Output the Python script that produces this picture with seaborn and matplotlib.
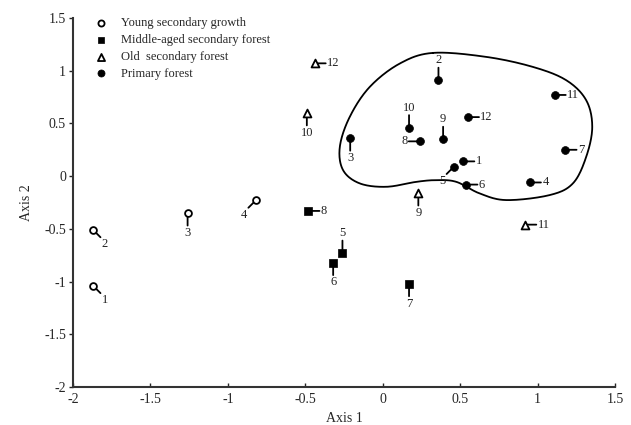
import numpy as np
import pandas as pd
import matplotlib
matplotlib.use("Agg")
import matplotlib.pyplot as plt
import seaborn as sns

# ---- data ----
young_x = [-1.87, -1.87, -1.26, -0.82]
young_y = [-1.04, -0.51, -0.35, -0.23]
young_lab = ["1", "2", "3", "4"]

middle_x = [-0.26, -0.32, 0.17, -0.48]
middle_y = [-0.73, -0.82, -1.02, -0.33]
middle_lab = ["5", "6", "7", "8"]

old_x = [0.23, -0.49, 0.92, -0.44]
old_y = [-0.16, 0.60, -0.46, 1.07]
old_lab = ["9", "10", "11", "12"]

primary_x = [0.52, 0.36, -0.21, 0.95, 0.46, 0.54, 1.18, 0.24, 0.39, 0.17, 1.11, 0.55]
primary_y = [0.14, 0.91, 0.36, -0.06, 0.09, -0.08, 0.25, 0.33, 0.35, 0.46, 0.77, 0.56]
primary_lab = ["1", "2", "3", "4", "5", "6", "7", "8", "9", "10", "11", "12"]

groups = ["Young secondary growth", "Middle-aged secondary forest",
          "Old  secondary forest", "Primary forest"]

x_ticks = [-2, -1.5, -1, -0.5, 0, 0.5, 1, 1.5]
x_tick_labels = ["-2", "-1.5", "-1", "-0.5", "0", "0.5", "1", "1.5"]
y_ticks = [-2, -1.5, -1, -0.5, 0, 0.5, 1, 1.5]
y_tick_labels = ["-2", "-1.5", "-1", "-0.5", "0", "0.5", "1", "1.5"]

# outline of the primary forest cluster (hand-drawn closed curve)
blob_x = [0.325, 0.669, 0.970, 1.185, 1.314, 1.353, 1.314, 1.228, 1.077, 0.798, 0.626,
          0.475, 0.346, 0.217, 0.024, -0.148, -0.256, -0.277, -0.213, -0.084, 0.110]
blob_y = [1.169, 1.131, 1.036, 0.910, 0.720, 0.467, 0.183, -0.069, -0.180, -0.227, -0.164,
          -0.054, -0.038, -0.054, -0.101, -0.069, 0.057, 0.278, 0.562, 0.846, 1.068]

# label placement directions
young_dir = ["se", "se", "s", "sw"]
middle_dir = ["n", "s", "s", "e"]
old_dir = ["s", "s", "e", "e"]
primary_dir = ["e", "n", "s", "e", "sw", "e", "e", "w", "n", "n", "e", "e"]

# ---- styling ----
sns.set_style("white")
plt.rcParams["font.family"] = ["Liberation Serif", "DejaVu Serif"]

fig = plt.figure(figsize=(6.31, 4.25), dpi=100)
ax = fig.add_axes([73 / 631, (425 - 387) / 425, 542 / 631, 369 / 425])

styles = [
    dict(marker="o", s=24, facecolor="white", edgecolor="black", linewidth=1.3),
    dict(marker="s", s=30, color="black", edgecolor="black", linewidth=0.5),
    dict(marker="^", s=32, facecolor="white", edgecolor="black", linewidth=1.3),
    dict(marker="o", s=32, color="black", edgecolor="black", linewidth=0.5),
]
data = [(young_x, young_y, young_lab, young_dir),
        (middle_x, middle_y, middle_lab, middle_dir),
        (old_x, old_y, old_lab, old_dir),
        (primary_x, primary_y, primary_lab, primary_dir)]

# offset (points), ha, va, relpos of leader line on text box
offsets = {
    "e": ((9, 0), "left", "center", (0.0, 0.5)),
    "w": ((-9, 0), "right", "center", (1.0, 0.5)),
    "n": ((0, 10), "center", "bottom", (0.5, 0.0)),
    "s": ((0, -10), "center", "top", (0.5, 1.0)),
    "se": ((6, -6), "left", "top", (0.0, 1.0)),
    "sw": ((-6, -6), "right", "top", (1.0, 1.0)),
}

for (xs, ys, labs, dirs), g, st in zip(data, groups, styles):
    df = pd.DataFrame({"x": xs, "y": ys})
    sns.scatterplot(data=df, x="x", y="y", ax=ax, label=g, zorder=3, **st)
    for xv, yv, lb, d in zip(xs, ys, labs, dirs):
        off, ha, va, rp = offsets[d]
        ax.annotate(lb, (xv, yv), xytext=off, textcoords="offset points",
                    ha=ha, va=va, fontsize=9, color="#222222",
                    arrowprops=dict(arrowstyle="-", color="black", lw=1.3,
                                    shrinkA=1, shrinkB=0, patchA=None,
                                    relpos=rp),
                    zorder=2)

# closed curve via periodic Catmull-Rom spline
P = np.column_stack([blob_x, blob_y])
n = len(P)
curve = []
for i in range(n):
    p0, p1, p2, p3 = P[(i - 1) % n], P[i], P[(i + 1) % n], P[(i + 2) % n]
    t = np.linspace(0, 1, 20, endpoint=False)[:, None]
    seg = 0.5 * ((2 * p1) + (-p0 + p2) * t + (2 * p0 - 5 * p1 + 4 * p2 - p3) * t ** 2
                 + (-p0 + 3 * p1 - 3 * p2 + p3) * t ** 3)
    curve.append(seg)
curve = np.vstack(curve + [curve[0][:1]])
ax.plot(curve[:, 0], curve[:, 1], color="black", lw=1.3, zorder=1)

ax.set_xlim(-2, 1.5)
ax.set_ylim(-2, 1.5)
ax.set_xticks(x_ticks)
ax.set_xticklabels(x_tick_labels)
ax.set_yticks(y_ticks)
ax.set_yticklabels(y_tick_labels)
ax.tick_params(axis="x", direction="in", length=3, width=1, labelsize=10, pad=4)
ax.tick_params(axis="y", direction="out", length=3, width=1, labelsize=10, pad=2)
ax.tick_params(left=True, bottom=True)
for side in ["top", "right"]:
    ax.spines[side].set_visible(False)
for side in ["left", "bottom"]:
    ax.spines[side].set_color("#333333")
    ax.spines[side].set_linewidth(1.5)

ax.set_xlabel("Axis 1", fontsize=10, labelpad=4.5)
ax.set_ylabel("Axis 2", fontsize=10, labelpad=8)

leg = ax.legend(loc="upper left", bbox_to_anchor=(0.02, 1.015), frameon=False,
                fontsize=9, handletextpad=0.6, labelspacing=0.38, borderaxespad=0,
                markerscale=0.9)

fig.savefig("out.png", dpi=100)
